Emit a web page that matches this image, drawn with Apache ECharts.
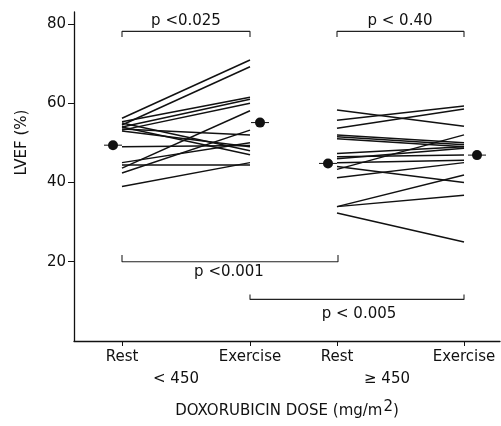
<!DOCTYPE html>
<html>
<head>
<meta charset="utf-8">
<script src="https://cdn.jsdelivr.net/npm/echarts@6/dist/echarts.min.js"></script>
<style>
  html, body { margin: 0; background: #fff; }
  #chart { width: 501px; height: 426px; }
</style>
</head>
<body>
<div id="chart"></div>
<script>
// horizontal slots (value axis units)
var slotNames = ['Rest', 'Exercise', 'Rest', 'Exercise'];
var slotX = [48, 176, 263, 390];
var groupNames = ['< 450', '\u2265 450'];
var groupX = [102, 313];
var yTicks = [20, 40, 60, 80];

// LVEF (%) per patient, dose < 450
var lowRest     = [56.2, 54.5, 55.3, 54.0, 53.2, 43.6, 42.4, 45.0, 53.0, 54.0, 55.0, 49.0, 44.4, 39.0, 53.5];
var lowExercise = [70.9, 69.2, 61.5, 61.0, 60.0, 58.1, 53.2, 50.0, 49.0, 47.0, 48.0, 49.3, 44.4, 45.0, 52.0];
// dose >= 450
var highRest     = [58.3, 55.7, 53.7, 52.0, 51.5, 51.0, 47.3, 46.5, 46.0, 45.0, 44.0, 43.3, 41.2, 33.9, 33.9, 32.3];
var highExercise = [54.2, 59.3, 58.5, 50.0, 49.5, 49.0, 49.0, 46.9, 48.6, 45.6, 40.0, 52.0, 45.0, 41.9, 36.8, 25.0];

// group means, drawn just beside the slots
var meanX = [39, 186, 254, 403];
var meanValues = [49.4, 55.1, 44.8, 46.9];

// significance brackets
var bracketPaths = [
    [[48, 76.7], [48, 78.1], [176, 78.1], [176, 76.7]],
    [[263, 76.7], [263, 78.1], [390, 78.1], [390, 76.7]],
    [[48, 21.7], [48, 20.0], [264, 20.0], [264, 21.7]],
    [[176, 11.7], [176, 10.5], [390, 10.5], [390, 11.7]]
];
var bracketLabels = ['p <0.025', 'p < 0.40', 'p <0.001', 'p < 0.005'];
var bracketLabelPos = [[112, 80.7], [326, 80.8], [155, 17.4], [285, 6.9]];

var FONT = 'DejaVu Sans';
var INK = '#111';

var chart = echarts.init(document.getElementById('chart'));

var series = [];
lowRest.forEach(function (v, i) {
    series.push({
        type: 'line', symbol: 'none', silent: true,
        lineStyle: { color: INK, width: 1.5 },
        data: [[slotX[0], v], [slotX[1], lowExercise[i]]]
    });
});
highRest.forEach(function (v, i) {
    series.push({
        type: 'line', symbol: 'none', silent: true,
        lineStyle: { color: INK, width: 1.5 },
        data: [[slotX[2], v], [slotX[3], highExercise[i]]]
    });
});
bracketPaths.forEach(function (path) {
    series.push({
        type: 'line', symbol: 'none', silent: true,
        lineStyle: { color: '#222', width: 1.1 },
        data: path
    });
});
series.push({
    type: 'custom',
    data: meanX.map(function (x, i) { return [x, meanValues[i]]; }),
    renderItem: function (params, api) {
        var p = api.coord([api.value(0), api.value(1)]);
        return {
            type: 'group',
            children: [
                { type: 'line', shape: { x1: p[0] - 9, y1: p[1], x2: p[0] + 9, y2: p[1] }, style: { stroke: INK, lineWidth: 1 } },
                { type: 'circle', shape: { cx: p[0], cy: p[1], r: 5 }, style: { fill: INK } }
            ]
        };
    }
});
series.push({
    type: 'custom',
    data: bracketLabelPos,
    renderItem: function (params, api) {
        var p = api.coord([api.value(0), api.value(1)]);
        return {
            type: 'text', x: p[0], y: p[1],
            style: {
                text: bracketLabels[params.dataIndex], fill: INK,
                font: '15px "' + FONT + '"', align: 'center', verticalAlign: 'middle'
            }
        };
    }
});

chart.setOption({
    animation: false,
    textStyle: { fontFamily: FONT, color: INK },
    grid: { left: 74, right: 1, top: 12, bottom: 85 },
    xAxis: [{
        type: 'value', min: 0, max: 426,
        axisLine: { lineStyle: { color: INK, width: 1.3 } },
        axisTick: { customValues: slotX, length: 5, lineStyle: { color: INK } },
        axisLabel: {
            customValues: slotX, margin: 9, fontSize: 15, color: INK,
            formatter: function (v) { return slotNames[slotX.indexOf(v)]; }
        },
        splitLine: { show: false },
        name: 'DOXORUBICIN DOSE (mg/m{s|2})',
        nameLocation: 'middle', nameGap: 59,
        nameTextStyle: {
            fontSize: 15, color: INK,
            rich: { s: { fontSize: 15, color: INK, padding: [0, 0, 8, 1] } }
        }
    }, {
        type: 'value', min: 0, max: 426, position: 'bottom',
        axisLine: { show: false }, axisTick: { show: false }, splitLine: { show: false },
        axisLabel: {
            customValues: groupX, margin: 31, fontSize: 15, color: INK,
            formatter: function (v) { return groupNames[groupX.indexOf(v)]; }
        }
    }],
    yAxis: {
        type: 'value', min: 0, max: 83, interval: 20,
        axisLine: { lineStyle: { color: INK, width: 1.3 } },
        axisTick: { customValues: yTicks, length: 6, lineStyle: { color: INK } },
        axisLabel: { customValues: yTicks, margin: 8, fontSize: 15, color: INK },
        splitLine: { show: false },
        name: 'LVEF (%)', nameLocation: 'middle', nameGap: 44,
        nameTextStyle: { fontSize: 15, color: INK, padding: [0, 0, 0, 68] }
    },
    series: series
});

window.addEventListener('resize', function () {
    chart.resize();
});
</script>
</body>
</html>
